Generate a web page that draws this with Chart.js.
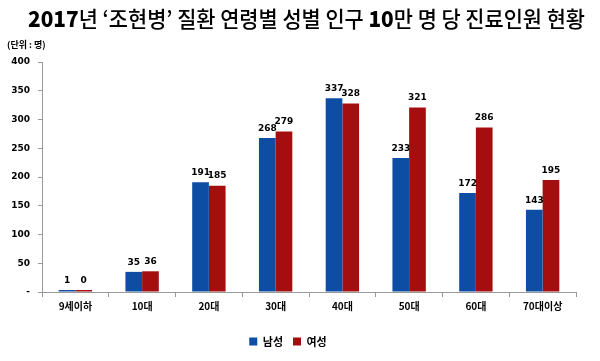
<!DOCTYPE html>
<html>
<head>
<meta charset="utf-8">
<script src="https://cdn.jsdelivr.net/npm/chart.js@4.4.0/dist/chart.umd.min.js"></script>
<style>
html,body{margin:0;padding:0;background:#fff;}
#wrap{width:600px;height:361px;position:relative;}
</style>
</head>
<body>
<div id="wrap"><canvas id="c" width="600" height="361"></canvas></div>
<script>
const categories = ['9세이하','10대','20대','30대','40대','50대','60대','70대이상'];
const male = [1,35,191,268,337,233,172,143];
const female = [0,36,185,279,328,321,286,195];
const yTicks = [0,50,100,150,200,250,300,350,400];
const titleParts = [['2017',true],['년 ‘조현병’ 질환 연령별 성별 인구 ',false],['10',true],['만 명 당 진료인원 현황',false]];
const unitLabel = '(단위 : 명)';

const BLUE = '#0E4DA4';
const RED = '#A50E0E';

const extras = {
  id: 'extras',
  afterDraw(chart) {
    const ctx = chart.ctx;
    ctx.save();
    const size = 22;
    const fBold = `900 ${size}px "Noto Sans CJK KR", "DejaVu Sans"`;
    const fReg = `500 ${size}px "Noto Sans CJK KR", "DejaVu Sans"`;
    let total = 0;
    const widths = titleParts.map(([t,b]) => { ctx.font = b ? fBold : fReg; const w = ctx.measureText(t).width; total += w; return w; });
    const targetW = 557;
    const sx = targetW / total;
    ctx.translate(28, 19);
    ctx.scale(sx, 1);
    let x = 0;
    ctx.fillStyle = '#000';
    ctx.textBaseline = 'middle';
    ctx.textAlign = 'left';
    titleParts.forEach(([t,b], i) => { ctx.font = b ? fBold : fReg; ctx.fillText(t, x, 0); x += widths[i]; });
    ctx.restore();
    ctx.save();
    ctx.font = 'bold 9px "Noto Sans CJK KR", "DejaVu Sans"';
    ctx.fillStyle = '#000';
    ctx.textBaseline = 'middle';
    ctx.fillText(unitLabel, 7, 45);
    ctx.font = 'bold 9px "DejaVu Sans"';
    ctx.textAlign = 'center';
    ctx.textBaseline = 'bottom';
    chart.data.datasets.forEach((ds, di) => {
      const meta = chart.getDatasetMeta(di);
      meta.data.forEach((bar, i) => {
        ctx.fillText(String(ds.data[i]), bar.x, bar.y - 5);
      });
    });
    ctx.restore();
  }
};

new Chart(document.getElementById('c'), {
  type: 'bar',
  data: {
    labels: categories,
    datasets: [
      {label: '남성', data: male, backgroundColor: BLUE, categoryPercentage: 0.5, barPercentage: 1.0, minBarLength: 2},
      {label: '여성', data: female, backgroundColor: RED, categoryPercentage: 0.5, barPercentage: 1.0, minBarLength: 2}
    ]
  },
  options: {
    responsive: false,
    animation: false,
    layout: {padding: {left: 0, right: 24, top: 62, bottom: 4}},
    plugins: {
      title: {display: false},
      tooltip: {enabled: false},
      legend: {
        position: 'bottom',
        labels: {
          boxWidth: 8, boxHeight: 8, padding: 10,
          color: '#000',
          font: {size: 11, weight: 'bold', family: '"Noto Sans CJK KR", "DejaVu Sans"'}
        }
      }
    },
    scales: {
      x: {
        grid: {display: true, drawOnChartArea: false, drawTicks: true, tickLength: 5, color: '#999', offset: true},
        border: {display: true, color: '#999'},
        ticks: {color: '#000', padding: 3, font: {size: 10, weight: 'bold', family: '"Noto Sans CJK KR", "DejaVu Sans"'}},
        afterFit(s) { s.height = 34; }
      },
      y: {
        min: 0, max: 400,
        afterBuildTicks(s) { s.ticks = yTicks.map(v => ({value: v})); },
        grid: {display: true, drawOnChartArea: false, drawTicks: true, tickLength: 4, color: '#999'},
        border: {display: true, color: '#999'},
        ticks: {color: '#000', padding: 8, font: {size: 9, weight: 'bold', family: '"DejaVu Sans"'},
          callback: v => v === 0 ? '-' : String(v)},
        afterFit(s) { s.width = 42; }
      }
    }
  },
  plugins: [extras]
});
</script>
</body>
</html>
